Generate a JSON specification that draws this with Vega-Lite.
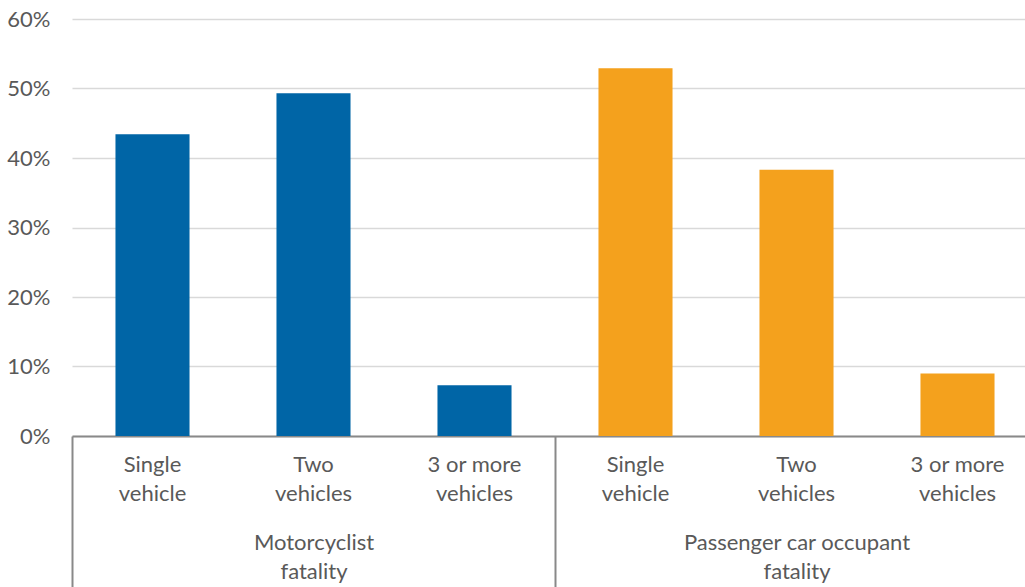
{
  "$schema": "https://vega.github.io/schema/vega-lite/v6.json",
  "width": 966,
  "height": 417,
  "autosize": "none",
  "padding": {"left": 72, "top": 19, "right": 0, "bottom": 151},
  "background": "white",
  "config": {
    "view": {"stroke": null},
    "font": "Lato",
    "axis": {"labelFont": "Lato", "labelColor": "#595959", "labelFontSize": 22, "labelLimit": 0, "titleColor": "#595959"}
  },
  "data": {
    "values": [
      {"group": "Motorcyclist fatality", "key": "Motorcyclist fatality|Single vehicle", "share": 0.434},
      {"group": "Motorcyclist fatality", "key": "Motorcyclist fatality|Two vehicles", "share": 0.493},
      {"group": "Motorcyclist fatality", "key": "Motorcyclist fatality|3 or more vehicles", "share": 0.073},
      {"group": "Passenger car occupant fatality", "key": "Passenger car occupant fatality|Single vehicle", "share": 0.529},
      {"group": "Passenger car occupant fatality", "key": "Passenger car occupant fatality|Two vehicles", "share": 0.383},
      {"group": "Passenger car occupant fatality", "key": "Passenger car occupant fatality|3 or more vehicles", "share": 0.09}
    ]
  },
  "layer": [
    {
      "mark": {"type": "bar"},
      "encoding": {
        "x": {
          "field": "key",
          "type": "nominal",
          "sort": null,
          "scale": {"paddingInner": 0.54, "paddingOuter": 0.27},
          "axis": {
            "orient": "bottom",
            "title": null,
            "ticks": false,
            "domain": true,
            "domainColor": "#898989",
            "domainWidth": 2,
            "labelAngle": 0,
            "labelPadding": 18,
            "labelLineHeight": 29,
            "labelExpr": "[substring(split(datum.label,'|')[1], 0, lastindexof(split(datum.label,'|')[1], ' ')), substring(split(datum.label,'|')[1], lastindexof(split(datum.label,'|')[1], ' ') + 1)]"
          }
        },
        "y": {
          "field": "share",
          "type": "quantitative",
          "scale": {"domain": [0, 0.6], "nice": false},
          "axis": {
            "title": null,
            "format": ".0%",
            "values": [0, 0.1, 0.2, 0.3, 0.4, 0.5, 0.6],
            "domain": false,
            "ticks": false,
            "grid": true,
            "gridColor": "#D9D9D9",
            "gridWidth": 1.5,
            "labelPadding": 22
          }
        },
        "color": {
          "field": "group",
          "type": "nominal",
          "scale": {"range": ["#0065A6", "#F4A11D"]},
          "legend": null
        }
      }
    },
    {
      "mark": {"type": "text"},
      "encoding": {
        "x": {
          "field": "group",
          "type": "nominal",
          "scale": {"paddingInner": 0, "paddingOuter": 0},
          "axis": {
            "orient": "bottom",
            "title": null,
            "domain": false,
            "grid": false,
            "ticks": true,
            "tickBand": "extent",
            "tickSize": 151,
            "tickColor": "#898989",
            "tickWidth": 2,
            "labelAngle": 0,
            "labelPadding": -55,
            "labelLineHeight": 29,
            "labelExpr": "[substring(datum.label, 0, lastindexof(datum.label, ' ')), substring(datum.label, lastindexof(datum.label, ' ') + 1)]"
          }
        },
        "text": {"value": ""}
      }
    }
  ],
  "resolve": {"scale": {"x": "independent"}, "axis": {"x": "independent"}}
}
